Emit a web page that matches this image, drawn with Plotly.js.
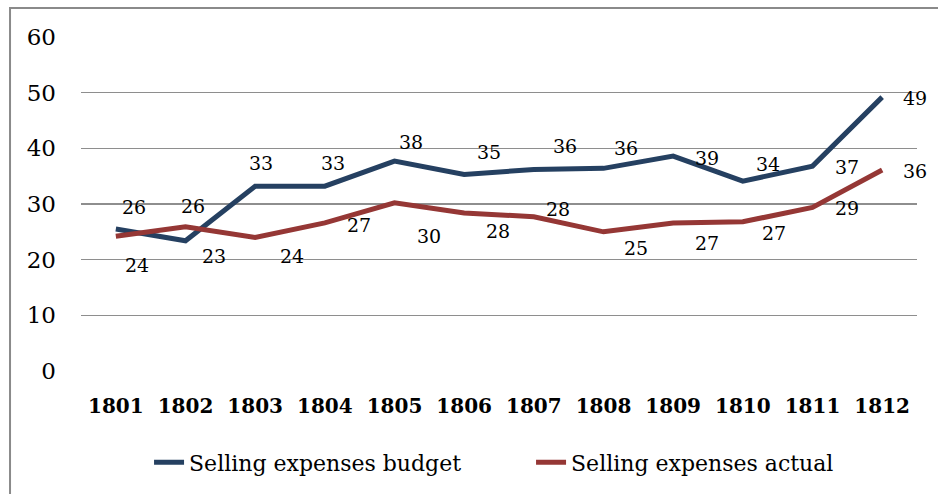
<!DOCTYPE html>
<html>
<head>
<meta charset="utf-8">
<script src="https://cdn.plot.ly/plotly-3.0.1.min.js"></script>
<style>
  html, body { margin: 0; padding: 0; background: #fff; }
  #chart { width: 938px; height: 494px; }
</style>
</head>
<body>
<div id="chart"></div>
<script>
// ---- data ----
const years = ['1801','1802','1803','1804','1805','1806','1807','1808','1809','1810','1811','1812'];
const budgetName = 'Selling expenses budget';
const actualName = 'Selling expenses actual';
const budget = [25.5, 23.4, 33.2, 33.2, 37.7, 35.3, 36.2, 36.4, 38.6, 34.1, 36.8, 49.2];
const actual = [24.2, 25.9, 24.0, 26.6, 30.2, 28.4, 27.7, 25.0, 26.6, 26.8, 29.4, 36.1];
const yTicks = [0, 10, 20, 30, 40, 50, 60];

// ---- label offsets (pixels: right, up) ----
const budgetShift = [[18,22],[28,-15],[6,23],[8,23],[16,19],[25,23],[31,23],[22,20],[34,-2],[25,17],[34,-1],[33,-1]];
const actualShift = [[21,-29],[7,21],[37,-19],[34,-2],[34,-33],[34,-18],[24,8],[32,-16],[34,-20],[31,-11],[34,-1],[33,-1]];

const fontFam = 'DejaVu Serif';
const navy = '#254061';
const red = '#953735';

const traces = [
  { x: years, y: budget, name: budgetName, type: 'scatter', mode: 'lines',
    line: { color: navy, width: 5, shape: 'linear' }, hoverinfo: 'skip' },
  { x: years, y: actual, name: actualName, type: 'scatter', mode: 'lines',
    line: { color: red, width: 5, shape: 'linear' }, hoverinfo: 'skip' }
];

const annotations = [];
function addLabels(vals, shifts) {
  vals.forEach((v, i) => {
    annotations.push({
      x: i, y: v, xref: 'x', yref: 'y',
      text: String(Math.round(v)), showarrow: false,
      xshift: shifts[i][0], yshift: shifts[i][1],
      font: { family: fontFam, size: 19, color: '#000000' }
    });
  });
}
addLabels(budget, budgetShift);
addLabels(actual, actualShift);

const layout = {
  width: 938, height: 494,
  margin: { l: 81, r: 21, t: 37, b: 122 },
  paper_bgcolor: '#ffffff', plot_bgcolor: '#ffffff',
  font: { family: fontFam, color: '#000000' },
  showlegend: true,
  legend: {
    orientation: 'h', x: 0.0814, xanchor: 'left', y: -0.27, yanchor: 'middle',
    entrywidth: 337, entrywidthmode: 'pixels', bgcolor: 'rgba(0,0,0,0)',
    font: { family: fontFam, size: 22, color: '#000000' }
  },
  xaxis: {
    type: 'category', range: [-0.5, 11.5],
    showgrid: false, zeroline: false, showline: false, ticks: '',
    tickfont: { family: fontFam, size: 20, color: '#000000', weight: 'bold' },
    ticklabelstandoff: 21, fixedrange: true
  },
  yaxis: {
    range: [0, 60], tickvals: yTicks, ticktext: yTicks.map(String),
    showgrid: true, gridcolor: '#8e8e8e', gridwidth: 1.5,
    zeroline: false, showline: false, ticks: '',
    tickfont: { family: fontFam, size: 23, color: '#000000' },
    ticklabelstandoff: 24, fixedrange: true
  },
  shapes: [{
    type: 'rect', xref: 'paper', yref: 'paper',
    x0: -0.0849, x1: 1.03, y0: -0.38, y1: 1.0866,
    line: { color: '#8a8a8a', width: 2 }, fillcolor: 'rgba(0,0,0,0)', layer: 'below'
  }],
  annotations: annotations
};

Plotly.newPlot('chart', traces, layout, { staticPlot: true, displayModeBar: false });
</script>
</body>
</html>
